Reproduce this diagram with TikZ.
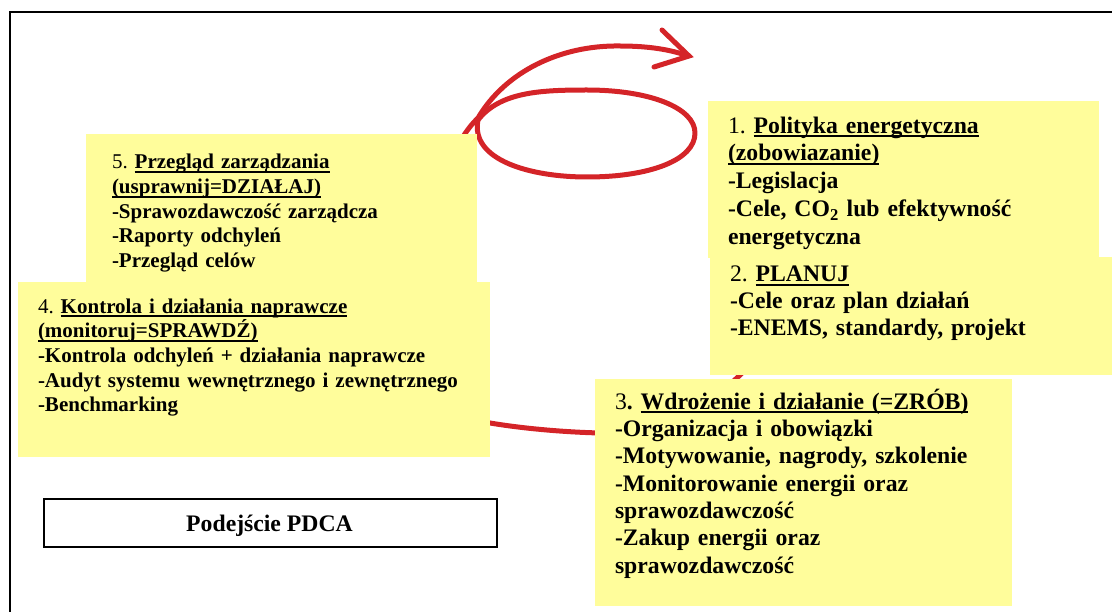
\documentclass[tikz,border=0pt]{standalone}
\usepackage{fontspec}
\setmainfont{Liberation Serif}
\usetikzlibrary{calc}

\definecolor{notefill}{RGB}{255,253,155}
\definecolor{loopred}{RGB}{212,36,40}

% thick underline placed just under the baseline
\newcommand{\ulbar}[1]{\leavevmode\setbox0\hbox{#1}\rlap{\rule[-4pt]{\wd0}{2pt}}\box0}

\tikzset{
  note/.style={fill=notefill, draw=none, inner sep=0pt, outer sep=0pt, anchor=north west},
  txt/.style={anchor=base west, inner sep=0pt, outer sep=0pt, text width=500pt, align=left},
  smalltxt/.style={txt, font=\fontsize{21.0}{24.6}\selectfont\bfseries\frenchspacing},
  bigtxt/.style={txt, font=\fontsize{23.7}{#1}\selectfont\bfseries\frenchspacing},
  loopline/.style={draw=loopred, line width=5pt, line cap=round, line join=round},
}

\begin{document}
\begin{tikzpicture}[x=1pt, y=-1pt]
\useasboundingbox (0,0) rectangle (1112,612);

% the red cycle arrow (drawn first, the notes cover most of it)
\draw[loopline] (780,330) .. controls (745,375) and (690,435) .. (600,433)
  .. controls (560,432) and (520,428) .. (490,423)
  .. controls (455,417) and (440,330) .. (440,240)
  .. controls (440,180) and (455,140) .. (478,118)
  .. controls (505,72) and (560,45) .. (620,46)
  .. controls (650,46) and (672,50) .. (688,56);
\draw[loopline, line join=miter] (662,30) -- (689,56) -- (654,67);
\draw[loopline] (478,120) .. controls (500,92) and (540,90) .. (587,90)
  .. controls (650,90) and (695,108) .. (695,133)
  .. controls (695,160) and (650,177) .. (587,177)
  .. controls (530,177) and (470,160) .. (478,120);

% yellow notes
\node[note, minimum width=391pt, minimum height=150pt] (b5) at (86,134) {};
\node[note, minimum width=472pt, minimum height=175pt] (b4) at (18,282) {};
\node[note, minimum width=391pt, minimum height=157pt] (b1) at (708,101) {};
\node[note, minimum width=405pt, minimum height=118pt] (b2) at (710,257) {};
\node[note, minimum width=417pt, minimum height=227pt] (b3) at (595,379) {};

\node[smalltxt] (t5) at (112,169) {{\mdseries 5.} \ulbar{Przegląd zarządzania}\\
\ulbar{(usprawnij=DZIAŁAJ)}\\
-Sprawozdawczość zarządcza\\
-Raporty odchyleń\\
-Przegląd celów};

\node[smalltxt] (t4) at (38,313.3) {{\mdseries 4.} \ulbar{Kontrola i działania naprawcze}\\
\ulbar{(monitoruj=SPRAWDŹ)}\\
-Kontrola odchyleń + działania naprawcze\\
-Audyt systemu wewnętrznego i zewnętrznego\\
-Benchmarking};

\node[bigtxt=27.7] (t1) at (728,133.3) {{\mdseries 1.} \ulbar{Polityka energetyczna}\\
\ulbar{(zobowiazanie)}\\
-Legislacja\\
-Cele, CO\textsubscript{2} lub efektywność\\
energetyczna};

\node[bigtxt=26.7] (t2) at (730,281.7) {{\mdseries 2.} \ulbar{PLANUJ}\\
-Cele oraz plan działań\\
-ENEMS, standardy, projekt};

\node[bigtxt=27.3] (t3) at (615,409.3) {{\mdseries 3}. \ulbar{Wdrożenie i działanie (=ZRÓB)}\\
-Organizacja i obowiązki\\
-Motywowanie, nagrody, szkolenie\\
-Monitorowanie energii oraz\\
sprawozdawczość\\
-Zakup energii oraz\\
sprawozdawczość};

% caption box
\node[draw=black, line width=2pt, fill=white, inner sep=0pt, anchor=north west,
      minimum width=453pt, minimum height=48pt] (pdca) at (43,498) {};
\node[anchor=base, inner sep=0pt, font=\fontsize{23.7}{28}\selectfont\bfseries]
  (pdcatxt) at (269.5,531.5) {Podejście PDCA};

% outer frame
\draw[line width=2pt] (10,640) -- (10,12) -- (1140,12);
\end{tikzpicture}
\end{document}
